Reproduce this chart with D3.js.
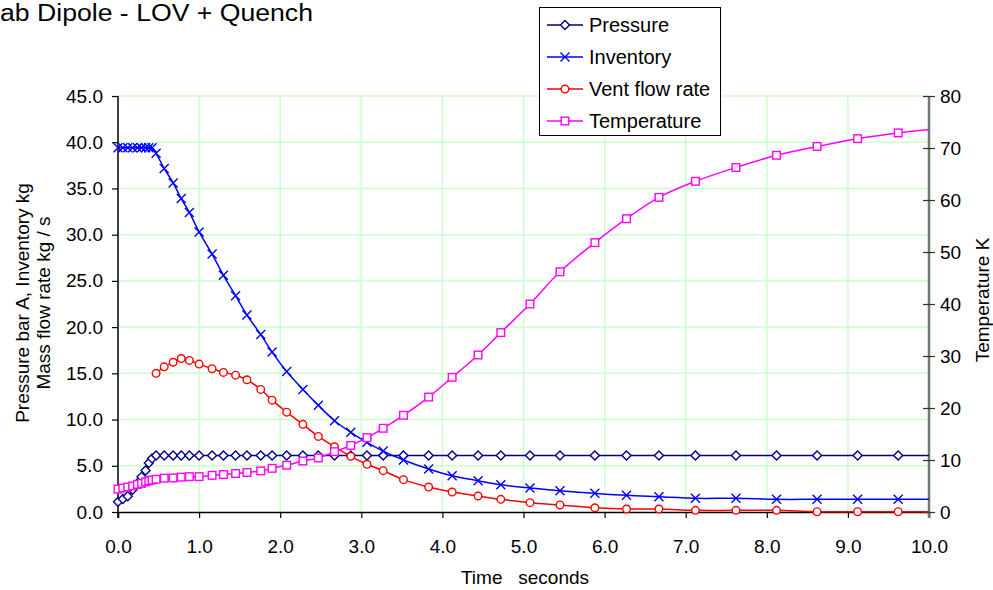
<!DOCTYPE html>
<html>
<head>
<meta charset="utf-8">
<script src="https://cdn.jsdelivr.net/npm/d3@7"></script>
<style>
  body { margin: 0; background: #fff; }
  svg { display: block; font-family: "Liberation Sans", Arial, sans-serif; }
</style>
</head>
<body>
<div id="container"></div>
<script>
// Données
const times = [0, 0.06, 0.12, 0.18, 0.24, 0.29, 0.34, 0.38, 0.42,
  0.47, 0.57, 0.68, 0.78, 0.88, 1.0, 1.16, 1.3, 1.45, 1.59,
  1.76, 1.9, 2.08, 2.28, 2.47, 2.67, 2.87, 3.07, 3.27, 3.52,
  3.83, 4.12, 4.44, 4.72, 5.08, 5.45, 5.88, 6.27, 6.67, 7.12,
  7.62, 8.12, 8.62, 9.12, 9.62, 10.1];

const pressure = [1.1, 1.4, 1.7, 2.4, 3.1, 3.8, 4.5, 5.3, 5.8,
  6.1, 6.1, 6.1, 6.1, 6.1, 6.1, 6.1, 6.1, 6.1, 6.1,
  6.1, 6.1, 6.1, 6.1, 6.1, 6.1, 6.1, 6.1, 6.1, 6.1,
  6.1, 6.1, 6.1, 6.1, 6.1, 6.1, 6.1, 6.1, 6.1, 6.1,
  6.1, 6.1, 6.1, 6.1, 6.1, 6.1];

const inventory = [39.4, 39.4, 39.4, 39.4, 39.4, 39.4, 39.4, 39.4, 39.4,
  38.8, 37.15, 35.6, 33.9, 32.4, 30.3, 27.9, 25.6, 23.4, 21.3,
  19.2, 17.3, 15.2, 13.26, 11.54, 9.87, 8.62, 7.54, 6.59, 5.62,
  4.65, 3.92, 3.38, 2.95, 2.59, 2.3, 2.02, 1.8, 1.65, 1.48,
  1.48, 1.37, 1.37, 1.37, 1.37, 1.37];

const ventFlow = [null, null, null, null, null, null, null, null, null,
  15.0, 15.7, 16.2, 16.6, 16.4, 16.0, 15.5, 15.1, 14.8, 14.3,
  13.26, 12.1, 10.8, 9.48, 8.18, 7.06, 6.02, 5.16, 4.47, 3.5,
  2.7, 2.16, 1.73, 1.37, 1.01, 0.76, 0.46, 0.32, 0.32, 0.18,
  0.18, 0.18, 0.03, 0.03, 0.03, 0.03];

const temperature = [4.4, 4.6, 4.8, 5.0, 5.3, 5.5, 5.8, 6.0, 6.15,
  6.3, 6.5, 6.55, 6.7, 6.8, 6.8, 7.05, 7.2, 7.4, 7.6,
  7.9, 8.4, 9.0, 9.8, 10.4, 11.6, 12.8, 14.3, 16.1, 18.6,
  22.1, 25.9, 30.2, 34.5, 40.0, 46.2, 51.8, 56.4, 60.5, 63.6,
  66.25, 68.6, 70.3, 71.8, 72.9, 73.7];

const xTicks = d3.range(0, 10.01, 1);
const yLeftTicks = d3.range(0, 45.01, 5);
const yRightTicks = d3.range(0, 80.01, 10);

/* Dimensions */
const width = 993, height = 590;
const plotLeft = 118, plotRight = 929, plotTop = 96, plotBottom = 512;
const fontSize = 19;
const gridColor = "#ccffcc";

const svg = d3.select("#container").append("svg")
  .attr("width", width)
  .attr("height", height);

const x = d3.scaleLinear().domain([0, 10]).range([plotLeft, plotRight]);
const yL = d3.scaleLinear().domain([0, 45]).range([plotBottom, plotTop]);
const yR = d3.scaleLinear().domain([0, 80]).range([plotBottom, plotTop]);

/* Titre (coupé à gauche comme dans l'original) */
svg.append("text")
  .attr("x", 0).attr("y", 21)
  .attr("textLength", 313).attr("lengthAdjust", "spacingAndGlyphs")
  .style("font-size", "23px")
  .text("ab Dipole - LOV + Quench");

/* Grille */
const grid = svg.append("g");
grid.selectAll("line.h").data(yLeftTicks.filter(d => d > 0))
  .enter().append("line")
  .attr("x1", plotLeft).attr("x2", plotRight)
  .attr("y1", d => yL(d)).attr("y2", d => yL(d))
  .attr("stroke", gridColor).attr("stroke-width", 1.5);
grid.selectAll("line.v").data(xTicks.filter(d => d > 0 && d < 10))
  .enter().append("line")
  .attr("x1", d => x(d)).attr("x2", d => x(d))
  .attr("y1", plotTop).attr("y2", plotBottom)
  .attr("stroke", gridColor).attr("stroke-width", 1.5);

/* Axes */
const xAxis = svg.append("g")
  .attr("transform", "translate(0," + plotBottom + ")")
  .call(d3.axisBottom(x).tickValues(xTicks).tickFormat(d3.format(".1f")).tickSize(6).tickPadding(22));
const yAxisL = svg.append("g")
  .attr("transform", "translate(" + plotLeft + ",0)")
  .call(d3.axisLeft(yL).tickValues(yLeftTicks).tickFormat(d3.format(".1f")).tickSize(6).tickPadding(9));
const yAxisR = svg.append("g")
  .attr("transform", "translate(" + plotRight + ",0)")
  .call(d3.axisRight(yR).tickValues(yRightTicks).tickSize(6).tickPadding(6));

[xAxis, yAxisL, yAxisR].forEach(function(a){
  a.selectAll("text").style("font-size", fontSize + "px").style("font-family", "Liberation Sans, Arial, sans-serif").attr("fill", "#000");
  a.selectAll("line").attr("stroke", "#000").attr("stroke-width", 1.2);
  a.select(".domain").attr("stroke", "#000").attr("stroke-width", 1.5);
});
yAxisR.select(".domain").attr("stroke", "#6e7a6e").attr("stroke-width", 2.5).attr("d", "M0," + (plotBottom + 6) + "V" + plotTop);
yAxisR.selectAll(".tick line").attr("x1", -6).attr("stroke", "#333");
yAxisR.selectAll(".tick text").attr("x", 11);
yAxisL.select(".domain").attr("d", "M0," + (plotBottom + 6) + "V" + plotTop);
xAxis.selectAll(".tick text").attr("dy", "0.71em");

/* Titres des axes */
svg.append("text")
  .attr("x", 525).attr("y", 584)
  .style("text-anchor", "middle").style("font-size", fontSize + "px")
  .attr("xml:space", "preserve")
  .text("Time   seconds");
const leftTitle = svg.append("text")
  .attr("transform", "translate(22,303) rotate(-90)")
  .style("text-anchor", "middle").style("font-size", fontSize + "px");
leftTitle.append("tspan").attr("x", 0).attr("dy", "0.35em").text("Pressure bar A, Inventory kg");
leftTitle.append("tspan").attr("x", 0).attr("dy", 21).text("Mass flow rate kg / s");
svg.append("text")
  .attr("transform", "translate(982,300) rotate(-90)")
  .attr("dy", "0.35em")
  .style("text-anchor", "middle").style("font-size", fontSize + "px")
  .text("Temperature K");

/* Séries */
svg.append("clipPath").attr("id", "clip")
  .append("rect").attr("x", 100).attr("y", 80).attr("width", plotRight - 100).attr("height", 450);

const series = [
  {name: "Pressure", values: pressure, scale: yL, color: "#000080", marker: "diamond"},
  {name: "Inventory", values: inventory, scale: yL, color: "#0000ff", marker: "cross"},
  {name: "Vent flow rate", values: ventFlow, scale: yL, color: "#ff0000", marker: "circle"},
  {name: "Temperature", values: temperature, scale: yR, color: "#ff00ff", marker: "square"}
];

function drawMarker(g, type, color){
  if(type == "diamond")
    g.append("path").attr("d", "M0,-4.5L4.5,0L0,4.5L-4.5,0Z").attr("fill", "#fff").attr("stroke", color).attr("stroke-width", 1.4);
  else if(type == "cross")
    g.append("path").attr("d", "M-4.5,-4.5L4.5,4.5M-4.5,4.5L4.5,-4.5").attr("fill", "none").attr("stroke", color).attr("stroke-width", 1.4);
  else if(type == "circle")
    g.append("circle").attr("r", 3.8).attr("fill", "#fff").attr("stroke", color).attr("stroke-width", 1.4);
  else
    g.append("rect").attr("x", -3.8).attr("y", -3.8).attr("width", 7.6).attr("height", 7.6).attr("fill", "#fff").attr("stroke", color).attr("stroke-width", 1.4);
}

const plot = svg.append("g").attr("clip-path", "url(#clip)");
series.forEach(function(s){
  const pts = times.map((t, i) => [t, s.values[i]]);
  const line = d3.line()
    .defined(d => d[1] != null)
    .x(d => x(d[0])).y(d => s.scale(d[1]))
    .curve(d3.curveCatmullRom.alpha(0.5));
  const g = plot.append("g");
  g.append("path").attr("d", line(pts)).attr("fill", "none").attr("stroke", s.color).attr("stroke-width", 1.5);
  pts.filter(d => d[1] != null).forEach(function(d){
    drawMarker(g.append("g").attr("transform", "translate(" + x(d[0]) + "," + s.scale(d[1]) + ")"), s.marker, s.color);
  });
});

/* Légende */
const legend = svg.append("g");
legend.append("rect").attr("x", 539.5).attr("y", 7.5).attr("width", 181).attr("height", 128)
  .attr("fill", "#fff").attr("stroke", "#000").attr("stroke-width", 1);
series.forEach(function(s, i){
  const cy = 25 + i * 32;
  legend.append("line").attr("x1", 547).attr("x2", 583).attr("y1", cy).attr("y2", cy)
    .attr("stroke", s.color).attr("stroke-width", 1.5);
  drawMarker(legend.append("g").attr("transform", "translate(565," + cy + ")"), s.marker, s.color);
  legend.append("text").attr("x", 589).attr("y", cy).attr("dy", "0.35em")
    .style("font-size", "20px").text(s.name);
});
</script>
</body>
</html>
